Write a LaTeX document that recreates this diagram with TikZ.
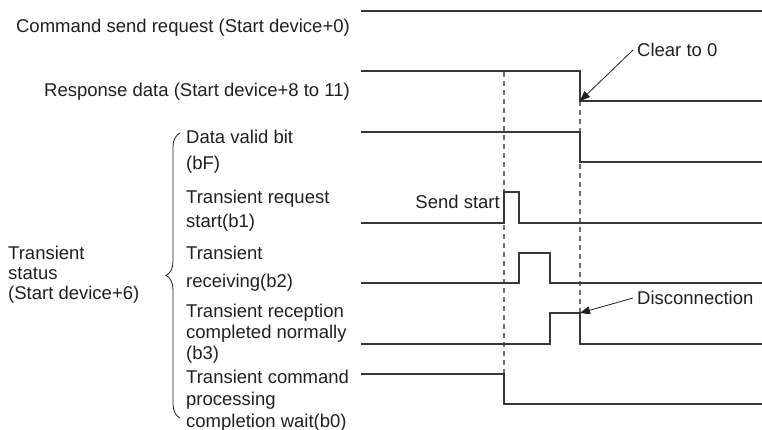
\documentclass[tikz,border=0pt]{standalone}
\usepackage{fontspec}
\setmainfont{Liberation Sans}
\usepackage{xcolor}
\usetikzlibrary{arrows.meta,decorations.pathreplacing}
\definecolor{ink}{RGB}{35,31,32}
\definecolor{wave}{RGB}{55,55,55}
\definecolor{guide}{RGB}{110,110,110}

\begin{document}
\begin{tikzpicture}[
  x=1pt, y=-1pt,
  lbl/.style={text=ink, inner sep=0pt, align=left, font=\fontsize{18.5}{#1}\selectfont},
  lbl/.default=22,
  sig/.style={draw=wave, line width=1.4pt},
  guideline/.style={draw=guide, line width=1.1pt, dash pattern=on 5pt off 4pt},
  arr/.style={-{Triangle[length=10pt,width=8pt]}, line width=0.8pt, ink},
]
\useasboundingbox (0,0) rectangle (762,430);
% signal names
\node[lbl, anchor=base east] (cmd) at (350,33) {Command send request (Start device+0)};
\node[lbl, anchor=base east] (resp) at (350,97) {Response data (Start device+8 to 11)};
\node[lbl=20, anchor=base west] (stat) at (8,299) {Transient\\status\\(Start device+6)};
\draw[ink, line width=0.8pt, decorate, decoration={brace, amplitude=14pt}] (180,418) -- (180,133);
\node[lbl=26, anchor=base west] (valid) at (186,170) {Data valid bit\\(bF)};
\node[lbl=23, anchor=base west] (req) at (186,227) {Transient request\\start(b1)};
\node[lbl=28, anchor=base west] (recv) at (186,287) {Transient\\receiving(b2)};
\node[lbl=21, anchor=base west] (done) at (186,359) {Transient reception\\completed normally\\(b3)};
\node[lbl=22, anchor=base west] (wait) at (186,427) {Transient command\\processing\\completion wait(b0)};
% timing guides
\draw[guideline] (504,72) -- (504,374);
\draw[guideline] (580,101) -- (580,313);
% waveforms
\draw[sig] (361,11) -- (762,11);
\draw[sig] (361,71) -| (580,101) -- (762,101);
\draw[sig] (361,132) -| (580,162) -- (762,162);
\draw[sig] (361,223) -| (504,192) -| (519,223) -- (762,223);
\draw[sig] (361,283) -| (519,253) -| (550,283) -- (762,283);
\draw[sig] (361,344) -| (550,313) -| (580,344) -- (762,344);
\draw[sig] (361,374) -| (504,404) -- (762,404);
\node[lbl, anchor=base east] (send) at (500,209) {Send start};
% callouts
\coordinate (clrpt) at (580,101);
\coordinate (discpt) at (580,313);
\node[lbl, inner sep=4pt, anchor=west] (clr) at (633,50) {Clear to 0};
\node[lbl, inner sep=4pt, anchor=west] (disc) at (633,298) {Disconnection};
\draw[arr] (clr.west) -- (clrpt);
\draw[arr] (disc.west) -- (discpt);
\end{tikzpicture}
\end{document}
